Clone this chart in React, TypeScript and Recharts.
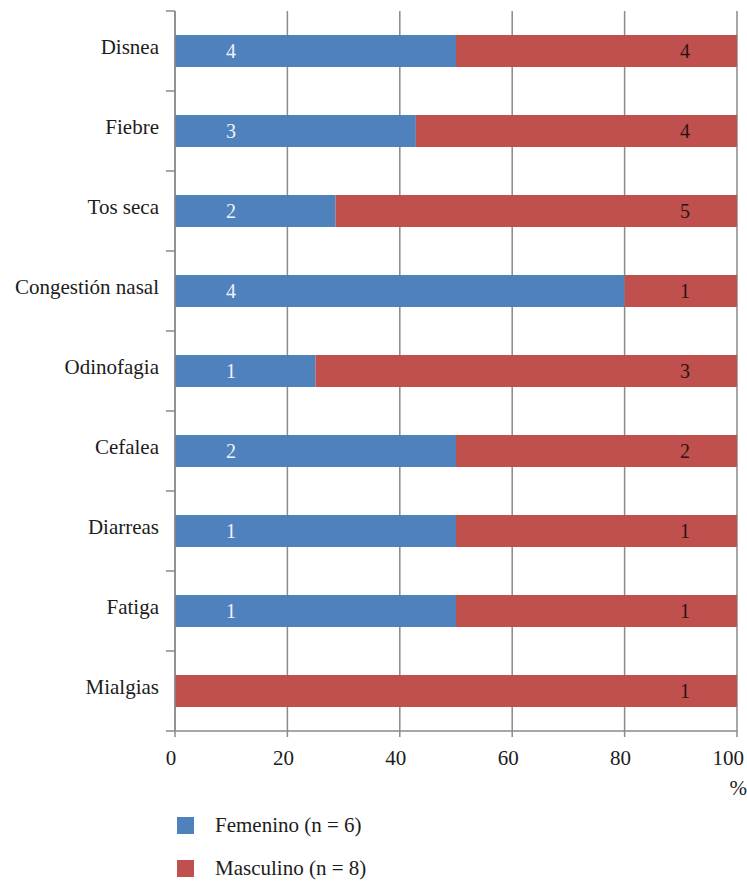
import { Bar, BarChart, CartesianGrid, LabelList, XAxis, YAxis, Label } from 'recharts'

// Síntomas por sexo, barras apiladas al 100 %.
const categories = ['Disnea', 'Fiebre', 'Tos seca', 'Congestión nasal', 'Odinofagia', 'Cefalea', 'Diarreas', 'Fatiga', 'Mialgias']
const femenino = [4, 3, 2, 4, 1, 2, 1, 1, 0]
const masculino = [4, 4, 5, 1, 3, 2, 1, 1, 1]
const xTicks = [0, 0.2, 0.4, 0.6, 0.8, 1]
const legendItems = [
  { label: 'Femenino (n = 6)', color: '#4f81bd' },
  { label: 'Masculino (n = 8)', color: '#c0504d' },
]

const data = categories.map((name, i) => ({ name, fem: femenino[i], masc: masculino[i] }))

const FONT = 'Liberation Serif, Tinos, DejaVu Serif, serif'
const GRID = '#8a8a8a'
const TEXT = '#1c1c1c'
const HALF_BAND = 40

function CategoryTick(props: any) {
  const { x, y, payload, index } = props
  return (
    <g>
      <text x={x} y={y + 3} textAnchor="end" fontSize={21} style={{ fontFamily: FONT }} fill={TEXT}>{payload.value}</text>
      <line x1={x + 7} x2={x + 16} y1={y - HALF_BAND} y2={y - HALF_BAND} stroke={GRID} strokeWidth={1.5} />
      {index === categories.length - 1 && (
        <line x1={x + 7} x2={x + 16} y1={y + HALF_BAND} y2={y + HALF_BAND} stroke={GRID} strokeWidth={1.5} />
      )}
    </g>
  )
}

function PctTick(props: any) {
  const { x, y, payload } = props
  const last = payload.value === 1
  return (
    <text x={last ? x + 7 : x - 4} y={y + 26} textAnchor={last ? 'end' : 'middle'} fontSize={21} style={{ fontFamily: FONT }} fill={TEXT}>
      {Math.round(payload.value * 100)}
    </text>
  )
}

function FemLabel(props: any) {
  const { x, y, height, value } = props
  if (!value) return null
  return <text x={x + 56} y={y + height / 2 + 7} textAnchor="middle" fontSize={20} style={{ fontFamily: FONT }} fill="#eef3fb">{value}</text>
}

function MascLabel(props: any) {
  const { x, y, width, height, value } = props
  if (!value) return null
  return <text x={x + width - 52} y={y + height / 2 + 7} textAnchor="middle" fontSize={20} style={{ fontFamily: FONT }} fill="#2a1414">{value}</text>
}

export default function App() {
  return (
    <div style={{ position: 'absolute', left: 0, top: 0, width: 747, height: 882, background: '#fff', fontFamily: FONT }}>
      <BarChart
        width={747}
        height={882}
        data={data}
        layout="vertical"
        stackOffset="expand"
        barSize={32}
        margin={{ top: 11, right: 10, bottom: 111, left: 0 }}
      >
        <CartesianGrid horizontal={false} stroke={GRID} strokeWidth={1.5} />
        <XAxis
          type="number"
          domain={[0, 1]}
          ticks={xTicks}
          height={40}
          tick={<PctTick />}
          tickSize={6}
          tickMargin={2}
          axisLine={{ stroke: GRID, strokeWidth: 1.5 }}
          tickLine={{ stroke: GRID, strokeWidth: 1.5 }}
        >
          <Label
            content={(p: any) => {
              const vb = p.viewBox
              return <text x={vb.x + vb.width + 10} y={vb.y + 64} textAnchor="end" fontSize={21} style={{ fontFamily: FONT }} fill={TEXT}>%</text>
            }}
          />
        </XAxis>
        <YAxis
          type="category"
          dataKey="name"
          width={175}
          tick={<CategoryTick />}
          tickLine={false}
          tickSize={9}
          tickMargin={7}
          interval={0}
          axisLine={{ stroke: GRID, strokeWidth: 1.5 }}
        />
        <Bar dataKey="fem" stackId="s" fill="#4f81bd" isAnimationActive={false}>
          <LabelList dataKey="fem" content={<FemLabel />} />
        </Bar>
        <Bar dataKey="masc" stackId="s" fill="#c0504d" isAnimationActive={false}>
          <LabelList dataKey="masc" content={<MascLabel />} />
        </Bar>
      </BarChart>
      {legendItems.map((item, i) => (
        <div key={item.label} style={{ position: 'absolute', left: 177, top: 813 + i * 43, display: 'flex', alignItems: 'center', fontSize: 21, color: TEXT }}>
          <span style={{ width: 17, height: 17, background: item.color, display: 'inline-block', marginRight: 21 }} />
          <span>{item.label}</span>
        </div>
      ))}
    </div>
  )
}
